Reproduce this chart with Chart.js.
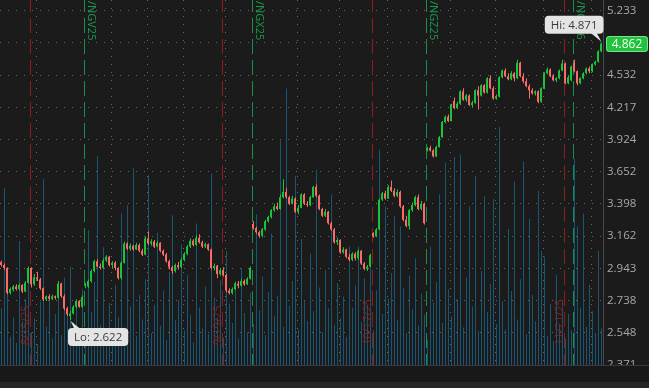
<!DOCTYPE html>
<html>
<head>
<meta charset="utf-8">
<script src="https://cdn.jsdelivr.net/npm/chart.js@4.4.1/dist/chart.umd.min.js"></script>
<style>
  html, body { margin: 0; padding: 0; background: #1b1b1b; overflow: hidden; }
  canvas { display: block; }
</style>
</head>
<body>
<canvas id="chart" width="649" height="388"></canvas>
<script>
// candles, one per bar (oldest first)
const open = [
  2.985,2.965,2.945,2.785,2.805,2.825,2.81,2.835,2.795,2.85,
  2.945,2.84,2.885,2.87,2.815,2.745,2.765,2.75,2.765,2.755,
  2.845,2.765,2.69,2.645,2.66,2.70,2.735,2.70,2.83,2.825,
  2.86,2.925,2.99,2.955,2.945,2.995,3.02,2.965,2.98,2.945,
  2.88,2.98,3.11,3.075,3.095,3.07,3.10,3.06,3.035,3.145,
  3.11,3.125,3.09,3.115,3.06,3.035,2.99,2.95,2.925,2.965,
  2.95,3.00,3.04,3.09,3.13,3.10,3.15,3.12,3.09,3.105,
  3.07,2.945,2.96,2.905,2.93,2.90,2.80,2.785,2.81,2.845,
  2.83,2.86,2.84,2.875,3.25,3.22,3.19,3.165,3.21,3.27,
  3.30,3.35,3.38,3.36,3.45,3.49,3.45,3.40,3.44,3.34,
  3.37,3.47,3.40,3.39,3.45,3.53,3.46,3.36,3.31,3.34,
  3.255,3.21,3.12,3.135,3.05,3.07,3.02,3.00,3.04,3.01,
  3.06,2.975,2.94,2.955,3.185,3.16,3.21,3.43,3.48,3.44,
  3.53,3.50,3.46,3.49,3.38,3.28,3.235,3.35,3.39,3.45,
  3.36,3.40,3.83,3.85,3.83,3.78,3.86,3.945,4.08,4.13,
  4.09,4.28,4.21,4.25,4.37,4.29,4.33,4.24,4.26,4.38,
  4.33,4.43,4.36,4.50,4.40,4.30,4.32,4.51,4.58,4.52,
  4.49,4.55,4.50,4.66,4.52,4.47,4.42,4.38,4.35,4.37,
  4.27,4.40,4.55,4.59,4.52,4.48,4.50,4.58,4.65,4.45,
  4.48,4.66,4.57,4.45,4.50,4.55,4.60,4.57,4.64,4.67,
  4.78
];
const close = [
  2.965,2.945,2.785,2.81,2.825,2.81,2.835,2.795,2.85,2.945,
  2.84,2.885,2.87,2.815,2.745,2.765,2.75,2.765,2.755,2.845,
  2.765,2.69,2.655,2.66,2.70,2.735,2.70,2.76,2.84,2.86,
  2.925,2.99,2.955,2.945,2.995,3.02,2.965,2.98,2.945,2.88,
  2.98,3.11,3.075,3.095,3.07,3.10,3.06,3.035,3.145,3.11,
  3.125,3.09,3.115,3.06,3.035,2.99,2.95,2.925,2.965,2.95,
  3.00,3.04,3.09,3.13,3.10,3.15,3.12,3.09,3.105,3.07,
  2.945,2.96,2.905,2.93,2.90,2.80,2.785,2.81,2.845,2.83,
  2.86,2.84,2.875,2.945,3.22,3.19,3.165,3.21,3.27,3.30,
  3.35,3.38,3.36,3.45,3.49,3.45,3.40,3.44,3.34,3.37,
  3.47,3.40,3.39,3.45,3.53,3.46,3.36,3.31,3.34,3.255,
  3.21,3.12,3.135,3.05,3.07,3.02,3.00,3.04,3.01,3.06,
  2.975,2.94,2.955,3.03,3.16,3.21,3.43,3.48,3.44,3.53,
  3.50,3.46,3.49,3.38,3.28,3.235,3.35,3.39,3.45,3.36,
  3.40,3.255,3.85,3.83,3.78,3.86,3.945,4.08,4.13,4.09,
  4.24,4.21,4.25,4.37,4.29,4.33,4.24,4.26,4.38,4.33,
  4.43,4.36,4.50,4.40,4.30,4.32,4.51,4.58,4.52,4.49,
  4.55,4.50,4.66,4.52,4.47,4.42,4.38,4.35,4.37,4.27,
  4.40,4.55,4.59,4.52,4.48,4.50,4.58,4.65,4.45,4.51,
  4.62,4.57,4.45,4.50,4.55,4.60,4.57,4.64,4.67,4.78,
  4.862
];
const high = [
  2.995,2.975,2.95,2.82,2.835,2.84,2.845,2.84,2.86,2.955,
  2.95,2.905,2.92,2.88,2.82,2.77,2.775,2.775,2.77,2.86,
  2.85,2.775,2.70,2.675,2.71,2.745,2.74,2.77,2.85,2.87,
  2.935,3.00,3.005,2.975,3.01,3.03,3.025,2.99,2.99,2.95,
  2.99,3.125,3.12,3.11,3.10,3.115,3.11,3.075,3.16,3.195,
  3.14,3.135,3.13,3.12,3.07,3.045,3.00,2.96,2.975,2.985,
  3.01,3.05,3.10,3.145,3.14,3.17,3.175,3.13,3.115,3.11,
  3.075,2.975,2.965,2.945,2.95,2.905,2.815,2.82,2.855,2.86,
  2.875,2.87,2.885,2.955,3.27,3.23,3.20,3.22,3.28,3.31,
  3.36,3.40,3.41,3.47,3.59,3.52,3.46,3.46,3.45,3.39,
  3.48,3.48,3.42,3.46,3.54,3.55,3.47,3.37,3.36,3.345,
  3.265,3.22,3.15,3.14,3.085,3.075,3.04,3.05,3.05,3.07,
  3.065,2.985,2.965,3.04,3.19,3.22,3.44,3.49,3.50,3.545,
  3.58,3.52,3.51,3.50,3.39,3.31,3.36,3.41,3.46,3.47,
  3.42,3.41,3.86,3.87,3.84,3.87,3.955,4.09,4.14,4.15,
  4.25,4.31,4.27,4.38,4.40,4.345,4.34,4.28,4.39,4.42,
  4.44,4.44,4.51,4.53,4.42,4.34,4.52,4.59,4.60,4.55,
  4.57,4.56,4.69,4.67,4.55,4.50,4.44,4.40,4.38,4.38,
  4.41,4.56,4.61,4.60,4.54,4.51,4.59,4.69,4.66,4.53,
  4.63,4.69,4.58,4.51,4.56,4.61,4.62,4.65,4.68,4.79,
  4.871
];
const low = [
  2.955,2.93,2.775,2.775,2.795,2.80,2.80,2.785,2.79,2.845,
  2.82,2.83,2.86,2.805,2.735,2.735,2.74,2.74,2.745,2.75,
  2.755,2.68,2.645,2.622,2.655,2.69,2.695,2.695,2.815,2.815,
  2.85,2.915,2.95,2.935,2.94,2.985,2.955,2.94,2.93,2.87,
  2.87,2.975,3.065,3.06,3.06,3.065,3.05,3.025,3.03,3.10,
  3.095,3.08,3.085,3.05,3.025,2.98,2.935,2.905,2.915,2.935,
  2.945,2.99,3.03,3.08,3.09,3.095,3.11,3.08,3.08,3.06,
  2.935,2.93,2.88,2.895,2.89,2.79,2.775,2.775,2.80,2.815,
  2.825,2.83,2.835,2.87,3.21,3.18,3.15,3.155,3.20,3.26,
  3.29,3.34,3.35,3.355,3.44,3.44,3.39,3.395,3.33,3.32,
  3.365,3.39,3.375,3.38,3.445,3.45,3.35,3.30,3.30,3.245,
  3.20,3.11,3.10,3.04,3.04,3.01,2.99,2.99,2.995,3.00,
  2.965,2.93,2.925,2.95,3.15,3.155,3.205,3.42,3.43,3.435,
  3.49,3.45,3.45,3.37,3.27,3.225,3.21,3.34,3.38,3.35,
  3.35,3.245,3.82,3.82,3.77,3.775,3.855,3.94,4.07,4.08,
  4.085,4.20,4.20,4.24,4.28,4.27,4.23,4.22,4.25,4.196,
  4.32,4.35,4.35,4.39,4.29,4.29,4.31,4.50,4.51,4.48,
  4.48,4.47,4.49,4.51,4.45,4.41,4.30,4.34,4.33,4.255,
  4.26,4.39,4.54,4.51,4.47,4.46,4.49,4.57,4.44,4.44,
  4.47,4.56,4.43,4.44,4.49,4.54,4.55,4.56,4.63,4.66,
  4.77
];
const volume = [
  6200,19400,8400,3100,5200,2400,13600,4800,7300,9800,
  3600,5100,2300,6900,20400,4200,7800,2900,5600,8900,
  3300,9600,6100,10800,4700,7200,2800,8300,3900,14800,
  5800,9100,22900,4400,12900,3700,6800,2600,8800,5300,
  16600,4100,17500,6400,21600,3200,7700,5000,9400,20800,
  3500,6600,14500,4300,8200,2700,10200,16400,4900,7100,
  13200,3800,9900,5500,2500,15500,6300,4000,8600,3400,
  21000,7400,5200,9300,3000,12500,6700,4600,8100,2900,
  10600,5700,3600,7900,4500,16500,6000,9700,3300,8000,
  14400,5400,7600,24600,4200,30300,6500,9200,20700,3900,
  13800,7000,4800,12200,5900,21400,8500,3600,10400,6200,
  18700,4400,9000,5100,7500,3100,13000,6300,8700,13000,
  4700,9500,6600,11200,3800,8200,23600,5600,17400,7300,
  10100,16300,4900,15200,8400,3500,9800,6100,11700,4300,
  7800,5500,2800,13000,6900,9100,18700,4600,22200,8300,
  5300,22800,7200,23100,4100,9600,17400,6400,20700,3700,
  10300,18500,5800,8900,18200,4500,26100,7000,3900,14900,
  8100,20100,5000,9400,22300,3400,16000,7700,4800,19100,
  12500,11900,3200,6700,2600,9900,4400,7100,2900,5600,
  3800,22600,15200,6300,16600,4200,8800,5900,3500,12500,
  4000
];

// price axis ticks and date labels (bar index where each date starts)
const priceTicks = [2.371, 2.548, 2.738, 2.943, 3.162, 3.398, 3.652, 3.924, 4.217, 4.532, 4.871, 5.233];
const dateLabels = ['8/11', '8/18', '9/1', '9/8', '9/15', '9/22', '10/6', '10/13', '10/20', '11/3', '11/10', '11/17', '11/24'];
const dateIdx = [-2, 12, 37, 49, 61, 75, 99, 113, 129, 150, 165, 181, 197];

// contract expirations and roll markers
const expiryLabels = ['8/15/25', '9/19/25', '10/17/25', '11/21/25'];
const expiryIdx = [10, 74, 124, 188];
const rollLabels = ['/NGV25', '/NGX25', '/NGZ25', '/NGF26'];
const rollIdx = [28, 84, 142, 191];

const upColor = '#19c43b';
const downColor = '#fb6a66';
const candleColors = close.map((c, i) => c >= open[i] ? upColor : downColor);
const font = "'Open Sans', sans-serif";

function rrect(ctx, x, y, w, h, r) {
  ctx.beginPath();
  ctx.moveTo(x + r, y);
  ctx.arcTo(x + w, y, x + w, y + h, r);
  ctx.arcTo(x + w, y + h, x, y + h, r);
  ctx.arcTo(x, y + h, x, y, r);
  ctx.arcTo(x, y, x + w, y, r);
  ctx.closePath();
}

const decor = {
  id: 'decor',
  beforeDraw(chart) {
    const ctx = chart.ctx;
    ctx.save();
    ctx.fillStyle = '#1b1b1b';
    ctx.fillRect(0, 0, chart.width, chart.height);
    ctx.restore();
  },
  beforeDatasetsDraw(chart) {
    const { ctx, chartArea: a, scales: { x } } = chart;
    ctx.save();
    // dotted date grid
    ctx.strokeStyle = '#6a6a6a';
    ctx.lineWidth = 1;
    ctx.setLineDash([1, 7]);
    dateIdx.forEach(d => {
      const px = Math.round(x.getPixelForValue(d - 0.5)) + 0.5;
      ctx.beginPath(); ctx.moveTo(px, a.top); ctx.lineTo(px, a.bottom); ctx.stroke();
    });
    // expiration (red) and roll (green) lines
    ctx.setLineDash([15, 6]);
    ctx.lineDashOffset = 3;
    const vline = (idx, color) => {
      const px = Math.round(x.getPixelForValue(idx - 0.5)) + 0.5;
      ctx.strokeStyle = color;
      ctx.beginPath(); ctx.moveTo(px, a.top); ctx.lineTo(px, a.bottom); ctx.stroke();
    };
    expiryIdx.forEach(idx => vline(idx, '#8e1c1c'));
    rollIdx.forEach(idx => vline(idx, '#14914a'));
    ctx.restore();
  },
  afterDatasetsDraw(chart) {
    const { ctx, chartArea: a, scales: { x } } = chart;
    ctx.save();
    ctx.font = "11px " + font;
    ctx.textBaseline = 'alphabetic';
    ctx.textAlign = 'left';
    expiryIdx.forEach((idx, k) => {
      const px = Math.round(x.getPixelForValue(idx - 0.5)) + 0.5;
      ctx.save();
      ctx.translate(px - 2, 345);
      ctx.rotate(-Math.PI / 2);
      ctx.fillStyle = '#8a2222';
      ctx.fillText(expiryLabels[k], 0, 0);
      ctx.restore();
    });
    rollIdx.forEach((idx, k) => {
      const px = Math.round(x.getPixelForValue(idx - 0.5)) + 0.5;
      ctx.save();
      ctx.translate(px + 3, 1);
      ctx.rotate(Math.PI / 2);
      ctx.fillStyle = '#1a9a50';
      ctx.fillText(rollLabels[k], 0, 0);
      ctx.restore();
    });
    // bottom date band
    ctx.fillStyle = '#181818';
    ctx.fillRect(0, a.bottom, chart.width, chart.height - a.bottom);
    ctx.fillStyle = '#3a3a3a';
    ctx.fillRect(0, a.bottom, chart.width, 1);
    ctx.fillStyle = '#262626';
    ctx.fillRect(0, 382, chart.width, 6);
    ctx.restore();
  },
  afterDraw(chart) {
    const { ctx, scales: { x, y } } = chart;
    ctx.save();
    ctx.font = "11.5px " + font;
    ctx.textBaseline = 'middle';
    let hi = 0, lo = 0;
    high.forEach((v, i) => { if (v > high[hi]) hi = i; });
    low.forEach((v, i) => { if (v < low[lo]) lo = i; });
    // high callout
    let px = x.getPixelForValue(hi), py = y.getPixelForValue(high[hi]);
    let txt = 'Hi: ' + high[hi].toFixed(3);
    let w = ctx.measureText(txt).width + 12, h = 18;
    let bx = px + 2 - w, by = py - 9 - h;
    ctx.fillStyle = '#e4e4e4';
    rrect(ctx, bx, by, w, h, 4); ctx.fill();
    ctx.beginPath(); ctx.moveTo(px - 11, by + h - 1); ctx.lineTo(px - 5, by + h - 1); ctx.lineTo(px, py - 1); ctx.closePath(); ctx.fill();
    ctx.fillStyle = '#3a3a3a';
    ctx.textAlign = 'center';
    ctx.fillText(txt, bx + w / 2, by + h / 2 + 0.5);
    // low callout
    px = x.getPixelForValue(lo); py = y.getPixelForValue(low[lo]);
    txt = 'Lo: ' + low[lo].toFixed(3);
    w = ctx.measureText(txt).width + 12;
    bx = px - 2.5; by = py + 8;
    ctx.fillStyle = '#e4e4e4';
    rrect(ctx, bx, by, w, h, 4); ctx.fill();
    ctx.beginPath(); ctx.moveTo(px + 4, by + 1); ctx.lineTo(px + 10, by + 1); ctx.lineTo(px, py + 1); ctx.closePath(); ctx.fill();
    ctx.fillStyle = '#3a3a3a';
    ctx.fillText(txt, bx + w / 2, by + h / 2 + 0.5);
    // last price bubble
    const last = close[close.length - 1];
    py = Math.round(y.getPixelForValue(last));
    ctx.fillStyle = '#20c23e';
    rrect(ctx, 606, py - 8, 42, 16, 3); ctx.fill();
    ctx.strokeStyle = '#7fe090'; ctx.lineWidth = 1;
    rrect(ctx, 606.5, py - 7.5, 41, 15, 3); ctx.stroke();
    ctx.fillStyle = '#f2fff2';
    ctx.font = "12px " + font;
    ctx.fillText(last.toFixed(3), 627, py + 0.5);
    ctx.restore();
  }
};

Chart.defaults.font.family = font;

new Chart(document.getElementById('chart'), {
  type: 'bar',
  data: {
    datasets: [{
      label: 'body',
      data: open.map((o, i) => ({ x: i - 1 / 6, y: [o, close[i]] })),
      backgroundColor: candleColors,
      barThickness: 2,
      minBarLength: 1,
      inflateAmount: 0,
      grouped: false,
      order: 1
    }, {
      label: 'wick',
      data: low.map((l, i) => ({ x: i, y: [l, high[i]] })),
      backgroundColor: candleColors,
      barThickness: 1,
      inflateAmount: 0,
      grouped: false,
      order: 2
    }, {
      label: 'volume',
      data: volume.map((v, i) => ({ x: i, y: v })),
      backgroundColor: '#195674',
      barThickness: 1,
      inflateAmount: 0,
      grouped: false,
      yAxisID: 'vol',
      order: 3
    }]
  },
  options: {
    responsive: false,
    animation: false,
    devicePixelRatio: 1,
    layout: { padding: 0 },
    plugins: { legend: { display: false }, tooltip: { enabled: false } },
    scales: {
      x: {
        type: 'linear',
        offset: false,
        min: -0.5,
        max: close.length - 0.5,
        bounds: 'data',
        z: 1,
        grid: { display: false, drawTicks: false, offset: false },
        border: { display: false },
        afterBuildTicks: s => { s.ticks = dateIdx.map(v => ({ value: v - 0.5 })); },
        afterFit: s => { s.height = 23; s.paddingLeft = 0; s.paddingRight = 0; },
        ticks: {
          autoSkip: false,
          maxRotation: 0,
          align: 'start',
          padding: 2,
          color: '#b2b2b2',
          font: { size: 11.5 },
          callback: (v, k) => dateLabels[k]
        }
      },
      y: {
        type: 'logarithmic',
        position: 'right',
        min: 2.371,
        max: 5.36,
        bounds: 'data',
        afterBuildTicks: s => { s.ticks = priceTicks.map(v => ({ value: v })); },
        afterFit: s => { s.width = 46; s.paddingTop = 0; s.paddingBottom = 0; },
        grid: { color: '#666666', lineWidth: 1, drawTicks: false },
        border: { display: true, color: '#474747', dash: [1, 7] },
        ticks: {
          padding: 4,
          color: '#a8a8a8',
          font: { size: 11.5 },
          callback: v => Number(v).toFixed(3)
        }
      },
      vol: {
        type: 'linear',
        display: false,
        min: 0,
        max: 40000
      }
    }
  },
  plugins: [decor]
});
</script>
</body>
</html>
